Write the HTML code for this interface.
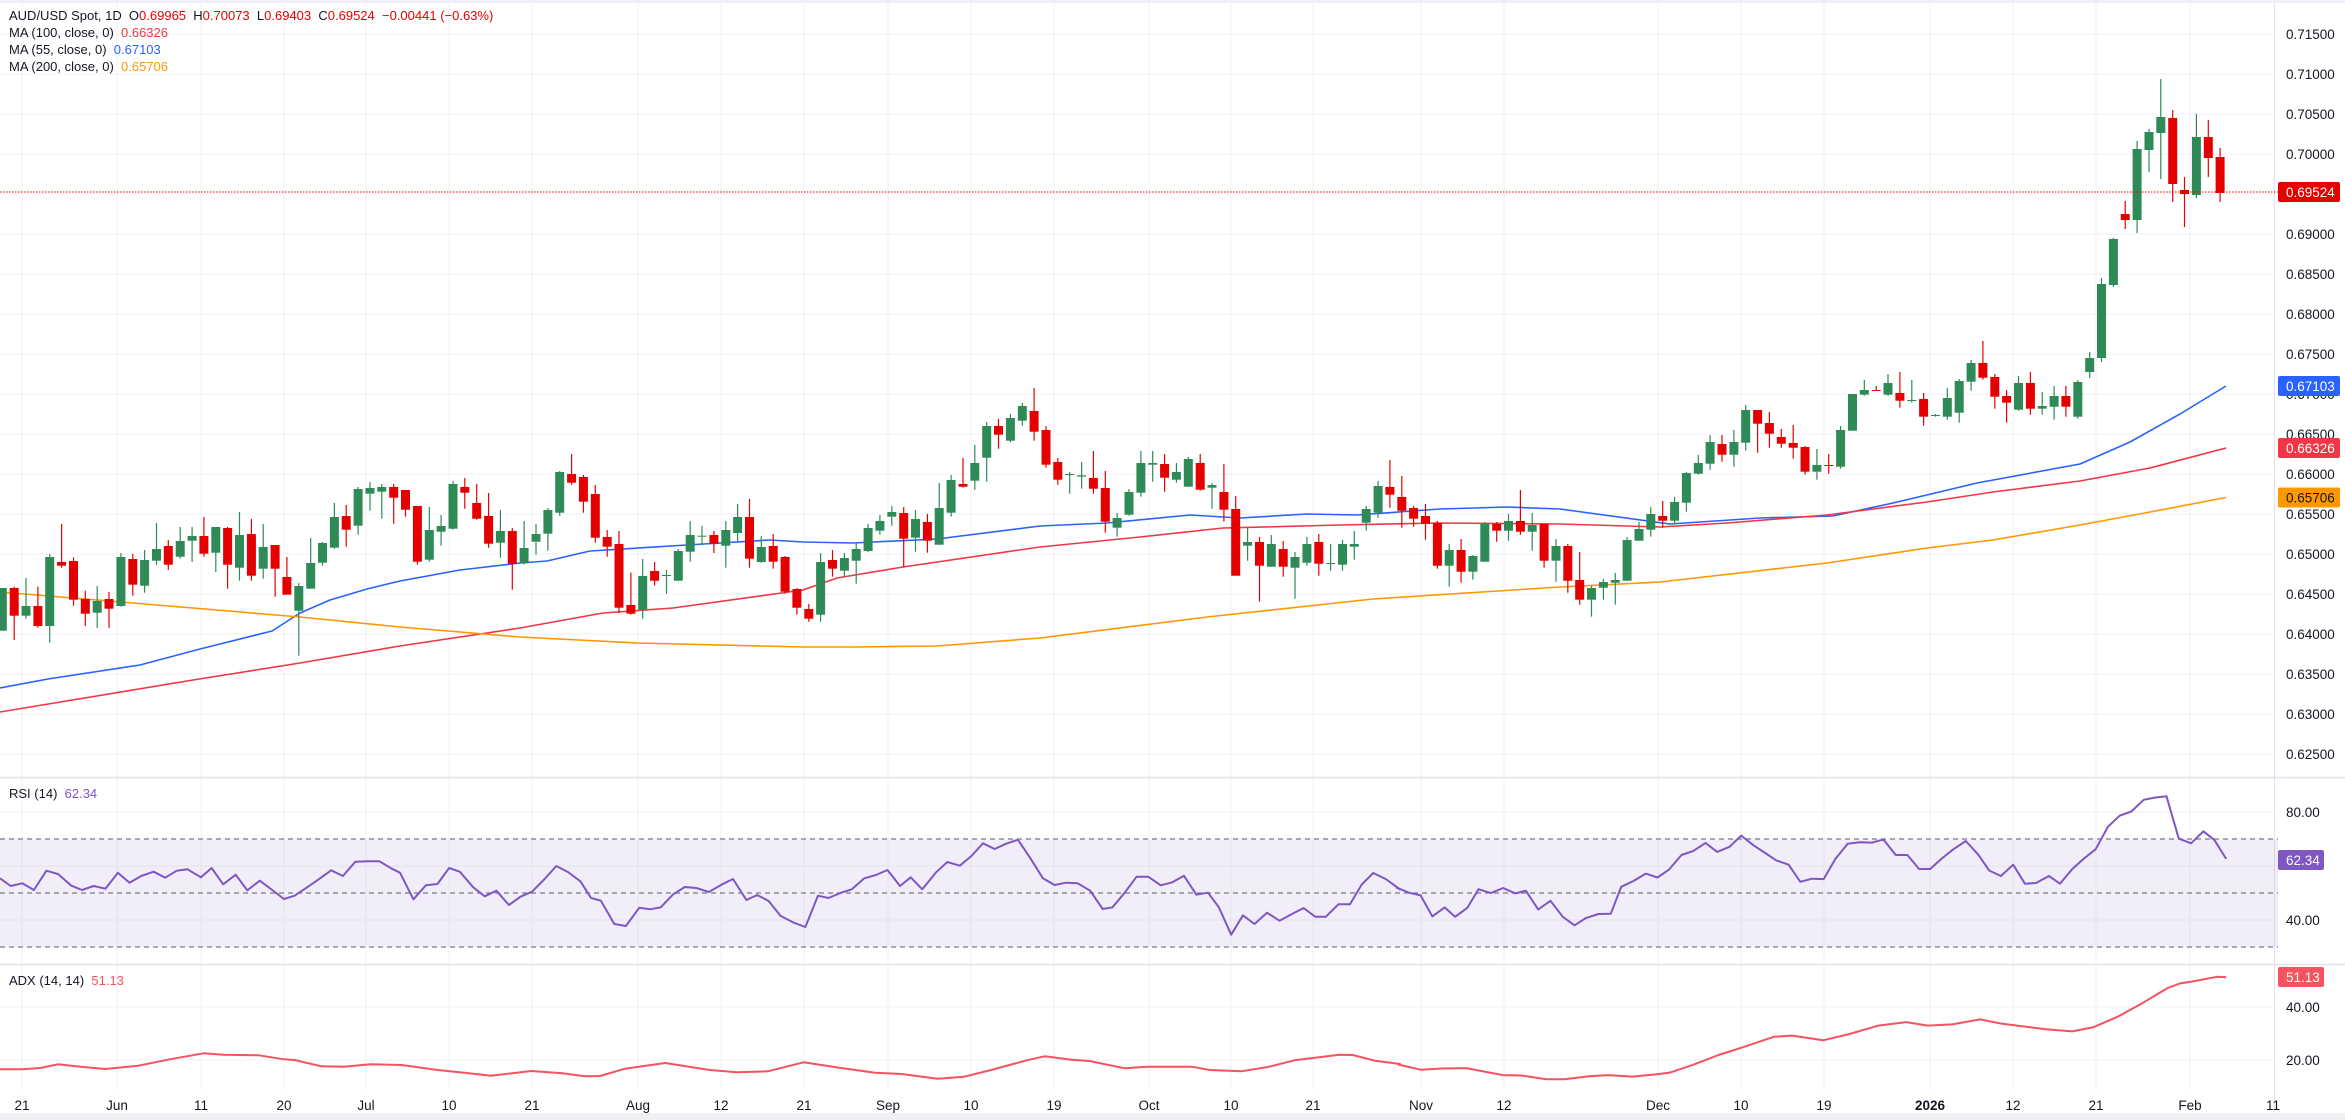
<!DOCTYPE html>
<html><head><meta charset="utf-8"><style>
html,body{margin:0;padding:0;background:#fff;width:2345px;height:1120px;overflow:hidden}
svg{display:block}
text{font-family:"Liberation Sans",sans-serif}
</style></head><body>
<svg id="s" width="2345" height="1120" xmlns="http://www.w3.org/2000/svg"></svg>
<script>
const S=document.getElementById('s');let h='';
const dates=[[22,'21'],[117,'Jun'],[201,'11'],[284,'20'],[366,'Jul'],[449,'10'],[532,'21'],[638,'Aug'],[721,'12'],[804,'21'],[888,'Sep'],[971,'10'],[1054,'19'],[1149,'Oct'],[1231,'10'],[1313,'21'],[1421,'Nov'],[1504,'12'],[1658,'Dec'],[1741,'10'],[1824,'19'],[1930,'2026'],[2013,'12'],[2096,'21'],[2190,'Feb'],[2273,'11']];
h+='<rect x="0" y="0" width="2345" height="3" fill="#eef0f5"/>';
h+='<rect x="0" y="1113" width="2345" height="7" fill="#eef0f5"/>';
dates.forEach(d=>{if(d[0]<2270)h+=`<line x1="${d[0]}" y1="3" x2="${d[0]}" y2="1090" stroke="#f0f1f4" stroke-width="1"/>`;});
for(let i=0;i<19;i++){const y=34+i*40;h+=`<line x1="0" y1="${y}" x2="2274" y2="${y}" stroke="#f0f1f4"/>`;}
[812,866,920].forEach(y=>h+=`<line x1="0" y1="${y}" x2="2274" y2="${y}" stroke="#f0f1f4"/>`);
[1007,1060].forEach(y=>h+=`<line x1="0" y1="${y}" x2="2274" y2="${y}" stroke="#f0f1f4"/>`);
h+='<line x1="0" y1="777.5" x2="2345" y2="777.5" stroke="#e0e3eb" stroke-width="1.5"/>';
h+='<line x1="0" y1="964.5" x2="2345" y2="964.5" stroke="#e0e3eb" stroke-width="1.5"/>';
h+='<line x1="2274.5" y1="3" x2="2274.5" y2="1113" stroke="#e0e3eb"/>';
h+='<rect x="0" y="839" width="2278" height="108" fill="#7e57c2" fill-opacity="0.1"/>';
[839,893,947].forEach(y=>h+=`<line x1="0" y1="${y}" x2="2278" y2="${y}" stroke="#787b86" stroke-dasharray="5,4" stroke-width="1.2"/>`);
function pl(pts,c,w){h+=`<polyline fill="none" stroke="${c}" stroke-width="${w}" stroke-linejoin="round" points="${pts.map(p=>p.join(',')).join(' ')}"/>`;}
pl([[0,688],[48,679],[140,665],[200,649],[272,631],[300,613],[330,600],[367,589],[400,581],[460,570],[520,563],[547,561],[590,551],[687,545],[770,540],[803,542],[853,543],[937,539],[1040,526],[1107,523],[1190,515],[1240,518],[1307,514],[1357,515],[1440,509],[1507,507],[1560,509],[1670,524],[1760,518],[1833,516],[1893,503],[1977,483],[2080,464],[2130,442],[2180,414],[2226,386]],'#2962ff',1.6);
pl([[0,712],[193,680],[300,663],[400,646],[520,628],[603,613],[673,608],[803,590],[837,578],[903,567],[1040,547],[1140,537],[1223,528],[1340,525],[1440,523],[1560,524],[1660,527],[1727,523],[1827,515],[1927,502],[1993,492],[2080,481],[2150,468],[2226,448]],'#f23645',1.6);
pl([[0,592],[133,603],[300,617],[400,627],[520,637],[637,643],[803,647],[853,647],[937,646],[1040,638],[1207,617],[1373,599],[1560,587],[1660,582],[1827,563],[1927,548],[1993,540],[2080,525],[2150,512],[2226,497.5]],'#ff9800',1.6);
const z8=[[624,752,624,752,'g'],[624,707,620,780,'r'],[678,707,594,716,'g'],[678,738,620,743,'r'],[531,738,522,788,'g'],[546,557,432,563,'r'],[543,659,532,677,'r'],[657,701,632,738,'r'],[663,698,618,744,'g'],[657,686,636,744,'r'],[531,678,519,680,'g'],[537,614,522,647,'r'],[540,617,510,638,'g'],[507,542,429,555,'g'],[498,554,480,570,'r'],[483,530,441,536,'g'],[468,482,441,546,'g'],[468,521,411,530,'r'],[441,518,441,576,'g'],[444,554,441,626,'r'],[465,563,396,602,'g'],[462,587,417,602,'r'],[501,566,432,596,'g'],[495,566,495,650,'r'],[591,644,531,644,'r'],[618,692,609,827,'g'],[549,626,474,626,'g'],[489,548,486,557,'g'],[411,503,369,506,'g'],[408,449,375,500,'r'],[327,437,321,464,'g'],[324,341,306,392,'g'],[321,335,312,416,'g'],[321,353,312,431,'r'],[330,389,330,410,'r'],[378,545,378,554,'r'],[450,539,381,545,'g'],[438,455,405,497,'g'],[312,446,303,449,'g'],[321,338,294,386,'r'],[369,416,312,419,'r'],[408,491,339,503,'r'],[453,488,390,533,'g'],[453,551,444,629,'r']];
const z9=[[534,580,453,583,'g'],[492,515,462,554,'g'],[420,491,414,542,'g'],[306,428,303,437,'g'],[312,338,252,344,'r'],[321,395,315,428,'r'],[372,503,345,518,'r'],[501,530,480,560,'r'],[522,713,483,729,'r'],[705,731,608,734,'r'],[618,719,567,746,'g'],[603,632,576,647,'r'],[615,618,600,671,'g'],[543,632,537,632,'g'],[495,545,453,575,'g'],[497,500,468,525,'g'],[495,521,483,549,'r'],[480,527,453,593,'g'],[441,489,402,513,'g'],[441,566,387,593,'r'],[531,576,498,578,'g'],[528,575,492,596,'r'],[561,665,558,671,'r'],[657,713,654,734,'r'],[717,746,702,755,'r'],[576,734,549,755,'g'],[570,596,540,620,'r'],[564,602,549,620,'g'],[537,572,519,641,'g'],[474,543,462,546,'g'],[453,482,435,494,'g'],[426,440,408,467,'g'],[429,506,411,591,'r'],[447,503,420,545,'g'],[456,512,432,548,'r'],[414,524,339,524,'g'],[330,428,315,440,'g'],[342,350,264,353,'r'],[279,332,225,359,'g'],[168,263,156,335,'g'],[168,194,147,236,'r'],[144,212,132,217,'g'],[108,152,99,167,'g'],[123,185,54,212,'r']];
const z10=[[90,194,78,203,'r'],[186,239,174,254,'r'],[222,224,216,281,'g'],[226,230,186,266,'g'],[234,266,153,281,'r'],[264,365,213,398,'r'],[354,383,339,410,'g'],[276,344,267,347,'g'],[189,278,153,290,'g'],[189,194,153,245,'g'],[192,233,162,275,'r'],[216,239,189,248,'g'],[177,260,171,260,'g'],[189,269,162,272,'r'],[255,263,249,326,'g'],[276,329,192,365,'r'],[327,527,288,527,'r'],[426,437,384,482,'g'],[426,497,411,605,'r'],[432,500,405,500,'g'],[447,500,423,530,'r'],[471,503,456,596,'g'],[432,488,411,497,'g'],[426,491,402,527,'r'],[489,491,432,512,'g'],[432,494,420,512,'g'],[432,440,393,479,'g'],[327,368,318,392,'g'],[258,338,243,353,'g'],[261,284,180,323,'r'],[291,332,228,383,'r'],[324,356,318,380,'r'],[348,371,312,419,'r'],[369,497,363,506,'r'],[450,497,432,560,'g'],[450,515,417,548,'r'],[468,515,465,539,'g'],[372,485,366,485,'g'],[372,392,366,425,'r'],[363,392,342,422,'g'],[363,395,270,404,'r'],[375,395,339,452,'g'],[372,482,372,503,'r'],[438,482,417,545,'g']];
const z11=[[738,842,732,878,'r'],[840,899,756,914,'r'],[864,899,857,950,'g'],[846,863,837,899,'g'],[840,848,819,914,'g'],[720,842,711,842,'g'],[687,722,666,722,'g'],[642,689,621,710,'g'],[648,662,603,683,'r'],[606,662,591,671,'g'],[519,608,516,635,'g'],[489,521,465,524,'g'],[426,491,405,509,'g'],[432,464,405,485,'r'],[426,464,390,500,'g'],[330,428,315,452,'g'],[330,371,330,458,'r'],[369,401,336,443,'r'],[411,431,387,443,'r'],[429,443,375,476,'r'],[441,515,438,524,'r'],[495,515,447,539,'g'],[495,497,462,521,'r'],[390,500,378,506,'g'],[282,392,282,392,'g'],[270,284,240,287,'g'],[270,272,258,272,'r'],[249,284,222,287,'g'],[279,302,216,323,'r'],[300,302,240,308,'g'],[297,350,279,377,'r'],[345,347,342,350,'g'],[294,350,264,359,'g'],[243,338,237,368,'g'],[189,245,180,272,'g'],[189,233,123,239,'r'],[231,290,222,326,'r'],[288,308,270,368,'r'],[249,329,228,332,'g'],[249,326,216,344,'r'],[318,326,276,344,'g'],[288,320,258,359,'g'],[288,320,258,350,'r'],[246,350,240,356,'g']];
const tail=[[358,372,352,378,'g'],[284,358,278,362,'g'],[239,285,238,287,'g'],[214,220,201,229,'r'],[149,220,141,233,'g'],[132,150,129,172,'g'],[117,133,79,179,'g'],[118,184,110,202,'r'],[190,194,177,227,'r'],[137,195,114,198,'g'],[137,158,120,177,'r'],[157,193,148,202,'r']];
let C=[];
[[z8,380],[z9,370],[z10,400],[z11,300]].forEach(([a,y0])=>a.forEach(c=>C.push([y0+c[0]/3,y0+c[1]/3,y0+c[2]/3,y0+c[3]/3,c[4]])));
tail.forEach(c=>C.push(c));
C.forEach((c,i)=>{const x=2.3+11.86*i;const col=c[4]=='g'?'#2e8b57':'#e50000';
h+=`<line x1="${x.toFixed(1)}" y1="${c[2].toFixed(1)}" x2="${x.toFixed(1)}" y2="${c[3].toFixed(1)}" stroke="${col}" stroke-width="1.2"/>`;
const bh=Math.max(1,c[1]-c[0]);h+=`<rect x="${(x-4.5).toFixed(1)}" y="${c[0].toFixed(1)}" width="9" height="${bh.toFixed(1)}" fill="${col}"/>`;});
h+='<line x1="0" y1="192" x2="2278" y2="192" stroke="#e50000" stroke-dasharray="1.5,1.5" stroke-width="1"/>';
const r12=[[0,235],[12,258],[25,250],[38,270],[52,212],[65,222],[80,257],[92,270],[105,258],[118,266],[132,218],[145,248],[158,228],[172,215],[185,233],[198,212],[210,208],[225,232],[237,204],[250,253],[264,224],[277,271],[291,242],[305,270],[318,297],[330,287],[345,260],[358,236],[371,211],[384,228],[398,185],[412,184],[425,184],[438,205],[448,218],[463,298],[477,256],[490,252],[503,204],[515,215],[530,262],[543,289],[556,272],[570,315],[583,290],[596,275],[610,237],[623,198],[636,216],[650,244],[662,294],[673,302],[688,372],[701,378],[716,323],[728,328],[740,322],[754,283],[767,261],[780,264],[794,276],[808,254],[821,237],[836,300],[848,285],[861,303],[874,347],[888,367],[902,381],[916,287],[928,294],[942,278],[954,268],[968,235],[981,225],[994,210],[1008,258],[1020,232],[1033,268],[1048,218],[1061,186],[1075,197],[1088,168],[1101,130],[1114,147],[1127,131],[1140,119],[1154,175],[1168,235],[1181,255],[1194,248],[1207,250],[1221,272],[1235,327],[1246,322],[1260,277],[1273,230],[1286,230],[1300,256],[1313,247],[1326,227],[1340,284],[1353,278],[1365,321],[1379,404],[1392,346],[1405,372],[1419,338],[1433,362],[1447,342],[1460,324],[1473,350],[1485,350],[1499,313],[1512,313],[1525,254],[1538,219],[1552,237],[1568,268]].map(p=>[(p[0]/1.12).toFixed(1),(800+p[1]/3).toFixed(1)]);
const r3=[[0,940],[27,972],[47,985],[66,992],[85,1046],[105,1023],[122,1047],[142,1024],[160,976],[180,986],[200,973],[220,987],[237,980],[257,1028],[277,1006],[297,1047],[316,1069],[335,1050],[355,1040],[375,1039],[392,970],[412,955],[432,936],[451,946],[470,925],[490,888],[509,878],[529,857],[548,880],[568,867],[587,838],[607,863],[626,883],[644,902],[664,913],[683,957],[702,949],[721,950],[740,898],[760,859],[779,855],[800,856],[818,848],[838,888],[857,888],[876,924],[894,924],[913,897],[932,873],[952,852],[972,887],[990,928],[1009,942],[1029,913],[1048,962],[1066,960],[1087,942],[1105,962],[1125,924],[1144,897],[1163,873],[1183,815],[1202,787],[1221,776],[1241,746],[1260,740],[1278,737],[1298,846],[1318,858],[1338,827],[1356,850],[1375,898]].map(p=>[(1380+p[0]/1.625).toFixed(1),(510+p[1]/2.574).toFixed(1)]);
pl(r12.concat(r3.slice(1)),'#7e57c2',2);
const a12=[[0,808],[25,808],[45,804],[65,793],[90,800],[118,807],[155,797],[190,778],[228,760],[250,764],[290,766],[318,778],[330,780],[360,799],[385,800],[415,793],[450,795],[490,810],[520,818],[550,827],[595,813],[630,820],[655,829],[672,828],[700,806],[745,789],[795,810],[825,817],[860,814],[900,787],[940,803],[980,818],[1010,822],[1050,836],[1080,830],[1110,810],[1150,781],[1170,769],[1200,779],[1220,783],[1260,805],[1285,800],[1335,800],[1355,810],[1390,814],[1420,801],[1450,781],[1500,764],[1515,765],[1540,782],[1568,792]].map(p=>[(p[0]/1.12).toFixed(1),(800+p[1]/3).toFixed(1)]);
const a3=[[30,1425],[66,1438],[100,1435],[140,1434],[170,1443],[200,1452],[230,1453],[270,1463],[300,1463],[340,1455],[370,1452],[410,1456],[450,1450],[470,1446],[510,1425],[550,1400],[590,1380],[640,1353],[670,1350],[720,1362],[760,1347],[810,1324],[855,1315],[890,1324],[930,1321],[975,1308],[1010,1319],[1080,1333],[1125,1339],[1160,1328],[1200,1300],[1240,1265],[1280,1227],[1300,1215],[1320,1210],[1360,1198],[1375,1199]].map(p=>[(1380+p[0]/1.625).toFixed(1),(1007+(p[1]-1276)/2.585).toFixed(1)]);
pl(a12.concat(a3),'#f7525f',2);
for(let i=0;i<19;i++){const p=0.715-i*0.005,y=34+i*40;h+=`<text x="2286" y="${y+5}" font-size="13.5" fill="#131722">${p.toFixed(5)}</text>`;}
[[812,'80.00'],[920,'40.00'],[1007,'40.00'],[1060,'20.00']].forEach(a=>h+=`<text x="2286" y="${a[0]+5}" font-size="13.5" fill="#131722">${a[1]}</text>`);
function box(y,c,t,tc,w){h+=`<rect x="2278" y="${y-10}" width="${w||62}" height="20" rx="2" fill="${c}"/><text x="2286" y="${y+5}" font-size="13.5" fill="${tc||'#fff'}">${t}</text>`;}
box(192,'#e50000','0.69524');box(386,'#2962ff','0.67103');box(448,'#f23645','0.66326');box(497.5,'#ff9800','0.65706','#131722');
box(860,'#7e57c2','62.34',null,46);box(977,'#f7525f','51.13',null,46);
dates.forEach(d=>h+=`<text x="${d[0]}" y="1110" font-size="13.5" fill="#131722" text-anchor="middle" ${d[1]=='2026'?'font-weight="bold"':''}>${d[1]}</text>`);
h+='<text x="9" y="20" font-size="13" fill="#131722" xml:space="preserve">AUD/USD Spot, 1D  O<tspan fill="#e50000">0.69965</tspan>  H<tspan fill="#e50000">0.70073</tspan>  L<tspan fill="#e50000">0.69403</tspan>  C<tspan fill="#e50000">0.69524</tspan>  <tspan fill="#e50000">−0.00441 (−0.63%)</tspan></text>';
h+='<text x="9" y="37" font-size="13" fill="#131722" xml:space="preserve">MA (100, close, 0)  <tspan fill="#f23645">0.66326</tspan></text>';
h+='<text x="9" y="54" font-size="13" fill="#131722" xml:space="preserve">MA (55, close, 0)  <tspan fill="#2962ff">0.67103</tspan></text>';
h+='<text x="9" y="71" font-size="13" fill="#131722" xml:space="preserve">MA (200, close, 0)  <tspan fill="#ff9800">0.65706</tspan></text>';
h+='<text x="9" y="798" font-size="13" fill="#131722" xml:space="preserve">RSI (14)  <tspan fill="#7e57c2">62.34</tspan></text>';
h+='<text x="9" y="985" font-size="13" fill="#131722" xml:space="preserve">ADX (14, 14)  <tspan fill="#f7525f">51.13</tspan></text>';
S.innerHTML=h;
</script>
</body></html>
